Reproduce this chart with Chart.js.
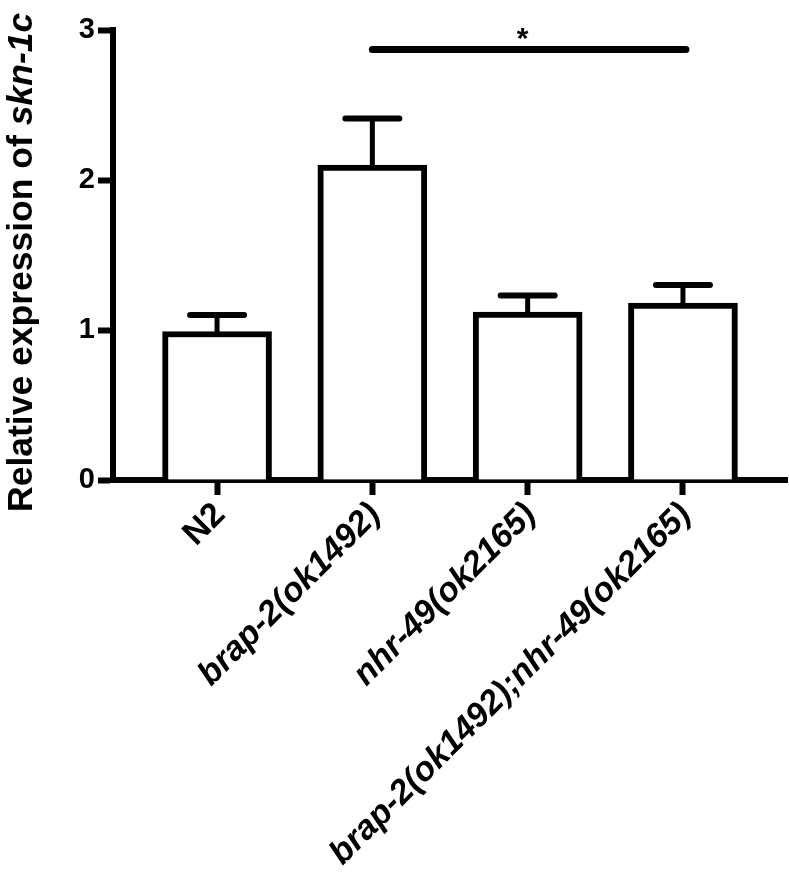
<!DOCTYPE html>
<html>
<head>
<meta charset="utf-8">
<title>Relative expression of skn-1c</title>
<script src="https://cdn.jsdelivr.net/npm/chart.js@4"></script>
<style>
  body { margin: 0; background: #ffffff; }
  #wrap { width: 789px; height: 874px; position: relative; }
</style>
</head>
<body>
<div id="wrap"><canvas id="exprChart"></canvas></div>
<script>
const strains = ['N2', 'brap-2(ok1492)', 'nhr-49(ok2165)', 'brap-2(ok1492);nhr-49(ok2165)'];
const meanExpr = [0.99, 2.10, 1.12, 1.18];
const semExpr = [0.11, 0.31, 0.11, 0.12];
const yTicks = [0, 1, 2, 3];
// significance bracket: from strain index to strain index, height, mark
const sigFrom = [1];
const sigTo = [3];
const sigLevel = [2.87];
const sigMark = ['*'];

const FONT = '"Liberation Sans", Arial, Helvetica, sans-serif';

// upper error bars (mean + SEM)
const errorBars = {
  id: 'errorBars',
  afterDatasetsDraw(chart) {
    const ctx = chart.ctx;
    const y = chart.scales.y;
    const meta = chart.getDatasetMeta(0);
    ctx.save();
    ctx.strokeStyle = '#000';
    meta.data.forEach((bar, i) => {
      const top = y.getPixelForValue(meanExpr[i] + semExpr[i]);
      const base = y.getPixelForValue(meanExpr[i]);
      ctx.lineWidth = 5;
      ctx.lineCap = 'butt';
      ctx.beginPath();
      ctx.moveTo(bar.x, base + 3);
      ctx.lineTo(bar.x, top);
      ctx.stroke();
      ctx.lineWidth = 6;
      ctx.lineCap = 'round';
      ctx.beginPath();
      ctx.moveTo(bar.x - 27, top);
      ctx.lineTo(bar.x + 27, top);
      ctx.stroke();
    });
    ctx.restore();
  }
};

// significance line with asterisk
const sigBracket = {
  id: 'sigBracket',
  afterDatasetsDraw(chart) {
    const ctx = chart.ctx;
    const x = chart.scales.x;
    const y = chart.scales.y;
    ctx.save();
    sigFrom.forEach((from, i) => {
      const x1 = x.getPixelForValue(from);
      const x2 = x.getPixelForValue(sigTo[i]);
      const yy = y.getPixelForValue(sigLevel[i]);
      ctx.strokeStyle = '#000';
      ctx.lineWidth = 7;
      ctx.lineCap = 'round';
      ctx.beginPath();
      ctx.moveTo(x1, yy);
      ctx.lineTo(x2 + 3, yy);
      ctx.stroke();
      ctx.fillStyle = '#000';
      ctx.font = 'bold 30px ' + FONT;
      ctx.textAlign = 'center';
      ctx.textBaseline = 'alphabetic';
      ctx.fillText(sigMark[i], (x1 + x2) / 2 - 5, yy - 2);
    });
    ctx.restore();
  }
};

// y axis title, gene name in italics
const yTitle = {
  id: 'yTitle',
  afterDraw(chart) {
    const ctx = chart.ctx;
    const plain = 'Relative expression of ';
    const gene = 'skn-1c';
    ctx.save();
    ctx.fillStyle = '#000';
    ctx.textBaseline = 'alphabetic';
    ctx.textAlign = 'left';
    ctx.font = 'bold 35.5px ' + FONT;
    const w1 = ctx.measureText(plain).width;
    ctx.translate(32, 512);
    ctx.rotate(-Math.PI / 2);
    ctx.fillText(plain, 0, 0);
    ctx.font = 'italic bold 35.5px ' + FONT;
    ctx.fillText(gene, w1, 0);
    ctx.restore();
  }
};

const chart = new Chart(document.getElementById('exprChart'), {
  type: 'bar',
  data: {
    datasets: [{
      data: meanExpr.map((v, i) => ({ x: i, y: v })),
      backgroundColor: '#ffffff',
      borderColor: '#000000',
      borderWidth: 6,
      barThickness: 109,
    }],
  },
  options: {
    responsive: true,
    maintainAspectRatio: false,
    animation: false,
    layout: { padding: { top: 30, right: 2, left: 0, bottom: 0 } },
    plugins: {
      legend: { display: false },
      tooltip: { enabled: false },
    },
    scales: {
      x: {
        type: 'linear',
        offset: false,
        min: -0.67,
        max: 3.67,
        afterBuildTicks: (scale) => { scale.ticks = strains.map((s, i) => ({ value: i })); },
        afterFit: (scale) => { scale.height = 394; },
        border: { color: '#000', width: 6 },
        grid: { drawOnChartArea: false, offset: false, tickLength: 15, tickWidth: 6, tickColor: '#000' },
        ticks: {
          autoSkip: false,
          minRotation: 45,
          maxRotation: 45,
          padding: 0,
          labelOffset: 3,
          color: '#000',
          font: (ctx) => ({
            family: FONT,
            size: 34,
            weight: 'bold',
            style: ctx.index === 0 ? 'normal' : 'italic',
          }),
          callback: (value) => strains[value],
        },
      },
      y: {
        min: 0,
        max: 3,
        afterBuildTicks: (scale) => { scale.ticks = yTicks.map((v) => ({ value: v })); },
        afterFit: (scale) => { scale.width = 113; },
        border: { color: '#000', width: 6 },
        grid: { drawOnChartArea: false, tickLength: 15, tickWidth: 6, tickColor: '#000' },
        ticks: {
          padding: 3,
          color: '#000',
          font: { family: FONT, size: 29, weight: 'bold' },
        },
      },
    },
  },
  plugins: [errorBars, sigBracket, yTitle],
});
</script>
</body>
</html>
